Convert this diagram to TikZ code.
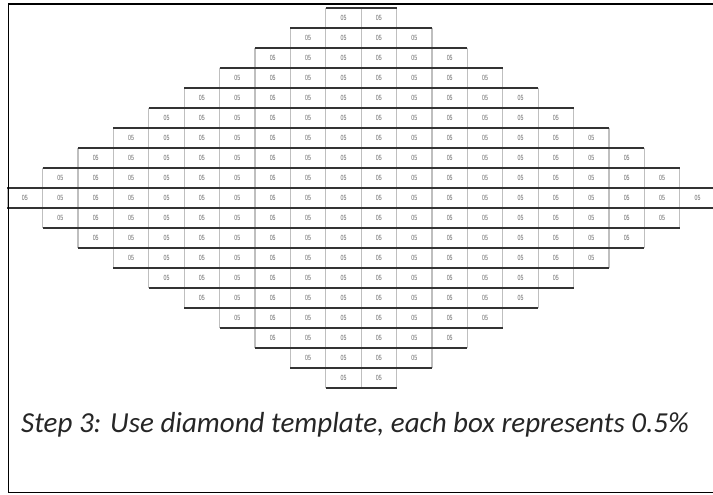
\documentclass[tikz,border=0pt]{standalone}
\usepackage{fontspec}
\usepackage{graphicx}
\setmainfont{Carlito}
\newfontfamily\cellfont{Liberation Sans}
\tikzset{
  cell/.style={minimum width=35.4pt, minimum height=20pt, inner sep=0pt,
    outer sep=0pt, text=black!60, font=\cellfont\fontsize{7.5}{7.5}\selectfont},
  hline/.style={black!80, line width=1.3pt},
  vline/.style={gray!50, line width=1.2pt},
  frameline/.style={black, line width=1.6pt},
}
\begin{document}
\begin{tikzpicture}[x=1pt, y=-1pt]
  \useasboundingbox (0,0) rectangle (713,495);
  \clip (0,0) rectangle (713,495);
  % Cells of the diamond, row by row
  \foreach \r in {0,...,18} {
    \pgfmathtruncatemacro{\nh}{min(\r,18-\r)+1}
    \pgfmathtruncatemacro{\last}{2*\nh-1}
    \foreach \c in {0,...,\last} {
      \node[cell] (c-\r-\c) at ({361.2+(\c-\nh+0.5)*35.4}, {18+20*\r})
        {\scalebox{0.7}[1]{05}};
      \draw[vline] (c-\r-\c.north west) -- (c-\r-\c.south west);
    }
    \draw[vline] (c-\r-\last.north east) -- (c-\r-\last.south east);
  }
  % Row borders
  \foreach \r in {0,...,18} {
    \pgfmathtruncatemacro{\last}{2*min(\r,18-\r)+1}
    \draw[hline] (c-\r-0.north west) -- (c-\r-\last.north east);
    \draw[hline] (c-\r-0.south west) -- (c-\r-\last.south east);
  }
  % Frame (open on the right)
  \draw[frameline] (713,4) -- (8.5,4) -- (8.5,492.5) -- (713,492.5);
  % Caption
  \node[anchor=base west, inner sep=0pt, text=black!85,
        font=\fontsize{29}{31}\selectfont\itshape] (caption) at (21,432)
        {Step 3: Use diamond template, each box represents 0.5\%};
\end{tikzpicture}
\end{document}
